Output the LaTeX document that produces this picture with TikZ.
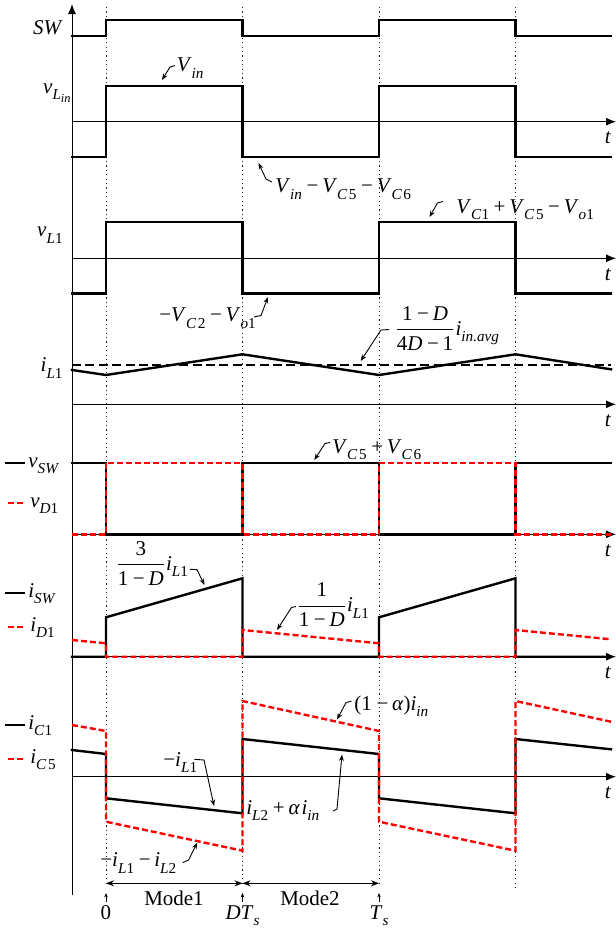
\documentclass[tikz,border=0pt]{standalone}
\usepackage{fontspec}
\setmainfont{Liberation Serif}
\usetikzlibrary{arrows.meta}
\newcommand\sbs[1]{\raisebox{-0.3em}{\fontsize{7.6}{8}\selectfont #1}}
\newcommand\ssbs[1]{\raisebox{-0.22em}{\fontsize{6.2}{6.5}\selectfont #1}}
\newcommand\mn{\hspace{0.22em}−\hspace{0.18em}}
\newcommand\pl{\hspace{0.22em}+\hspace{0.18em}}
\newcommand\iv[1]{\textit{#1}}
\newcommand\cg{\hspace{0.1em}}
\begin{document}
\begin{tikzpicture}[x=0.5pt,y=-0.5pt,
  every node/.style={inner sep=0pt,font=\fontsize{10.5}{12}\selectfont},
  wave/.style={line width=1.2pt,line join=miter,line cap=rect},
  redw/.style={line width=1.2pt,red,dash pattern=on 3pt off 1.5pt},
  axis/.style={line width=0.5pt,-{Latex[length=5pt,width=4pt]}},
  gridl/.style={line width=0.45pt,dash pattern=on 0.6pt off 1.6pt,black!85},
  lead/.style={line width=0.45pt,-{Stealth[length=3.2pt,width=2.4pt]}},
  avgl/.style={line width=0.8pt,dash pattern=on 4.5pt off 2.2pt},
  modear/.style={line width=0.55pt,{Stealth[length=4pt,width=3pt]}-{Stealth[length=4pt,width=3pt]}},
  upar/.style={line width=0.4pt,-{Stealth[length=2.2pt,width=1.8pt]}},
  lbl/.style={anchor=base west},
  lft/.style={anchor=base east}]
\useasboundingbox (0,0) rectangle (616,928);
\def\ta{106}\def\tb{242.5}\def\tc{379}\def\td{515.5}
% dotted time markers
\foreach \x/\yb in {\ta/883,\tb/883,\tc/883,\td/888}
  \draw[gridl] (\x,7) -- (\x,\yb);
% axes
\draw[axis] (72,895) -- (72,4);
\foreach \y [count=\k] in {121.7,258.3,404.3,534.3,656.7,776.7}{
  \draw[axis] (72,\y) -- (616,\y);
  \node[anchor=base] (tl\k) at (608,\y+22) {\iv{t}};
}
% SW
\draw[wave] (72,35.7) -- (\ta,35.7) -- (\ta,20) -- (\tb,20) -- (\tb,35.7) -- (\tc,35.7) -- (\tc,20) -- (\td,20) -- (\td,35.7) -- (611,35.7);
% vLin
\draw[wave] (72,156.7) -- (\ta,156.7) -- (\ta,86) -- (\tb,86) -- (\tb,156.7) -- (\tc,156.7) -- (\tc,86) -- (\td,86) -- (\td,156.7) -- (611,156.7);
% vL1
\draw[wave] (72,293.3) -- (\ta,293.3) -- (\ta,221.7) -- (\tb,221.7) -- (\tb,293.3) -- (\tc,293.3) -- (\tc,221.7) -- (\td,221.7) -- (\td,293.3) -- (611,293.3);
% iL1
\draw[avgl] (72,365) -- (611,365);
\draw[wave] (72,370) -- (\ta,375) -- (\tb,354.3) -- (\tc,375) -- (\td,354.3) -- (611,369.3);
% vSW / vD1
\draw[wave] (72,462.7) -- (\ta,462.7) -- (\ta,534.3) -- (\tb,534.3) -- (\tb,462.7) -- (\tc,462.7) -- (\tc,534.3) -- (\td,534.3) -- (\td,462.7) -- (611,462.7);
\draw[redw] (72,534.3) -- (\ta,534.3) -- (\ta,462.7) -- (\tb,462.7) -- (\tb,534.3) -- (\tc,534.3) -- (\tc,462.7) -- (\td,462.7) -- (\td,534.3) -- (611,534.3);
% iSW / iD1
\draw[wave] (72,656.7) -- (\ta,656.7) -- (\ta,617.3) -- (\tb,578.3) -- (\tb,656.7) -- (\tc,656.7) -- (\tc,617.3) -- (\td,578.3) -- (\td,656.7) -- (611,656.7);
\draw[redw] (72,640) -- (\ta,643.3) -- (\ta,656.7) -- (\tb,656.7) -- (\tb,630) -- (\tc,643.3) -- (\tc,656.7) -- (\td,656.7) -- (\td,630) -- (611,639.3);
% iC1 / iC5
\draw[wave] (72,750) -- (\ta,754) -- (\ta,798.3) -- (\tb,813.3) -- (\tb,739) -- (\tc,754) -- (\tc,798.3) -- (\td,813.3) -- (\td,739) -- (611,749.3);
\draw[redw] (72,725) -- (\ta,731) -- (\ta,821.7) -- (\tb,850.7) -- (\tb,701) -- (\tc,731) -- (\tc,821.7) -- (\td,850.7) -- (\td,701) -- (611,721.7);
% left labels
\node[lft] (lsw) at (63,34.3) {\iv{SW}};
\node[lft] (lvlin) at (71,93) {\iv{v}\sbs{\iv{L}\ssbs{\iv{in}}}};
\node[lft] (lvl1) at (63,236.7) {\iv{v}\sbs{\iv{L}1}};
\node[lft] (lil1) at (63,371.7) {\iv{i}\sbs{\iv{L}1}};
% legends
\draw[wave] (6,462.7) -- (23.6,462.7);
\node[lbl] (lvsw) at (28,467.2) {\iv{v}\sbs{\iv{SW}}};
\draw[redw] (8,502.7) -- (25.5,502.7);
\node[lbl] (lvd1) at (30,507.2) {\iv{v}\sbs{\iv{D}1}};
\draw[wave] (6,592.7) -- (23.6,592.7);
\node[lbl] (lisw) at (28,597.2) {\iv{i}\sbs{\iv{SW}}};
\draw[redw] (8,626.7) -- (25.5,626.7);
\node[lbl] (lid1) at (30,631.2) {\iv{i}\sbs{\iv{D}1}};
\draw[wave] (6,725) -- (23.6,725);
\node[lbl] (lic1) at (28,729.5) {\iv{i}\sbs{\iv{C}1}};
\draw[redw] (8,759) -- (25.5,759);
\node[lbl] (lic5) at (30,763.5) {\iv{i}\sbs{\iv{C}\cg 5}};
% annotations
\node[lbl] (nvin) at (176.5,71.7) {\iv{V}\sbs{\iv{in}}};
\coordinate (a1s) at (175,65.5); \coordinate (a1m) at (170,67); \coordinate (a1t) at (162,80);
\draw[lead] (a1s) -- (a1m) -- (a1t);
\node[lbl] (nvlow) at (275,192.7) {\iv{V}\sbs{\iv{in}}\mn\iv{V}\sbs{\iv{C}\cg 5}\mn\iv{V}\sbs{\iv{C}\cg 6}};
\coordinate (a2s) at (272,182); \coordinate (a2m) at (266,179); \coordinate (a2t) at (258.5,163);
\draw[lead] (a2s) -- (a2m) -- (a2t);
\node[lbl] (nvhigh) at (456,213.3) {\iv{V}\sbs{\iv{C}1}\pl\iv{V}\sbs{\iv{C}\cg 5}\mn\iv{V}\sbs{\iv{o}1}};
\coordinate (a3s) at (443,201.5); \coordinate (a3m) at (437.5,203); \coordinate (a3t) at (429.5,217);
\draw[lead] (a3s) -- (a3m) -- (a3t);
\node[lbl] (nvneg) at (159,321.7) {−\iv{V}\sbs{\iv{C}\cg 2}\mn\iv{V}\sbs{\iv{o}1}};
\coordinate (a4s) at (254,317); \coordinate (a4m) at (261,315.5); \coordinate (a4t) at (268,297);
\draw[lead] (a4s) -- (a4m) -- (a4t);
\node[lbl] (navg) at (394,335) {$\displaystyle\frac{\mbox{1\mn\iv{D}}}{\mbox{4\iv{D}\mn1}}$\iv{i}\sbs{\iv{in.avg}}};
\coordinate (a5s) at (389,329.5); \coordinate (a5m) at (381,330); \coordinate (a5t) at (360.7,361);
\draw[lead] (a5s) -- (a5m) -- (a5t);
\node[lbl] (nvc56) at (332,453.3) {\iv{V}\sbs{\iv{C}\cg 5}\pl\iv{V}\sbs{\iv{C}\cg 6}};
\coordinate (a6s) at (330,442.5); \coordinate (a6m) at (325,443.5); \coordinate (a6t) at (314.3,460);
\draw[lead] (a6s) -- (a6m) -- (a6t);
\node[lbl] (nisw) at (115,570) {$\displaystyle\frac{\mbox{3}}{\mbox{1\mn\iv{D}}}$\iv{i}\sbs{\iv{L}1}};
\coordinate (a7s) at (190,569.3); \coordinate (a7m) at (197,569.6); \coordinate (a7t) at (204.5,585);
\draw[lead] (a7s) -- (a7m) -- (a7t);
\node[lbl] (nid1) at (296,611.7) {$\displaystyle\frac{\mbox{1}}{\mbox{1\mn\iv{D}}}$\iv{i}\sbs{\iv{L}1}};
\coordinate (a8s) at (296,606.5); \coordinate (a8m) at (291.5,607.5); \coordinate (a8t) at (277,630);
\draw[lead] (a8s) -- (a8m) -- (a8t);
\node[lbl] (nic5a) at (354,710) {(1\mn\iv{α})\iv{i}\sbs{\iv{in}}};
\coordinate (a9s) at (351.5,701); \coordinate (a9m) at (346,702.7); \coordinate (a9t) at (337,719.5);
\draw[lead] (a9s) -- (a9m) -- (a9t);
\node[lbl] (nic1a) at (163,766) {−\iv{i}\sbs{\iv{L}1}};
\coordinate (a10s) at (194.5,759.3); \coordinate (a10m) at (204,760); \coordinate (a10t) at (214,806);
\draw[lead] (a10s) -- (a10m) -- (a10t);
\node[lbl] (nic1b) at (246,814) {\iv{i}\sbs{\iv{L}2}\pl\iv{α}\hspace{0.08em}\iv{i}\sbs{\iv{in}}};
\coordinate (a11s) at (333,811); \coordinate (a11m) at (337,809); \coordinate (a11t) at (342,754.5);
\draw[lead] (a11s) -- (a11m) -- (a11t);
\node[lbl] (nic5b) at (100,866.7) {−\iv{i}\sbs{\iv{L}1}\mn\iv{i}\sbs{\iv{L}2}};
\coordinate (a12s) at (182.7,862.7); \coordinate (a12m) at (188.6,860); \coordinate (a12t) at (197.2,842.7);
\draw[lead] (a12s) -- (a12m) -- (a12t);
% modes and time labels
\coordinate (m0) at (\ta,883.3); \coordinate (m1) at (\tb,883.3); \coordinate (m2) at (\tc,883.3);
\draw[modear] (m0) -- (m1);
\draw[modear] (m1) -- (m2);
\node[anchor=base] (mode1) at (174,905) {Mode1};
\node[anchor=base] (mode2) at (310,905) {Mode2};
\foreach \x/\n in {\ta/u0,\tb/u1,\tc/u2}{
  \coordinate (\n b) at (\x,901.5); \coordinate (\n t) at (\x,893);
  \draw[upar] (\n b) -- (\n t);
}
\node[anchor=base] (t0l) at (\ta,919.5) {0};
\node[anchor=base] (t1l) at (\tb,919.5) {\iv{DT}\sbs{\iv{s}}};
\node[anchor=base] (t2l) at (\tc,919.5) {\iv{T}\sbs{\iv{s}}};
\end{tikzpicture}
\end{document}
